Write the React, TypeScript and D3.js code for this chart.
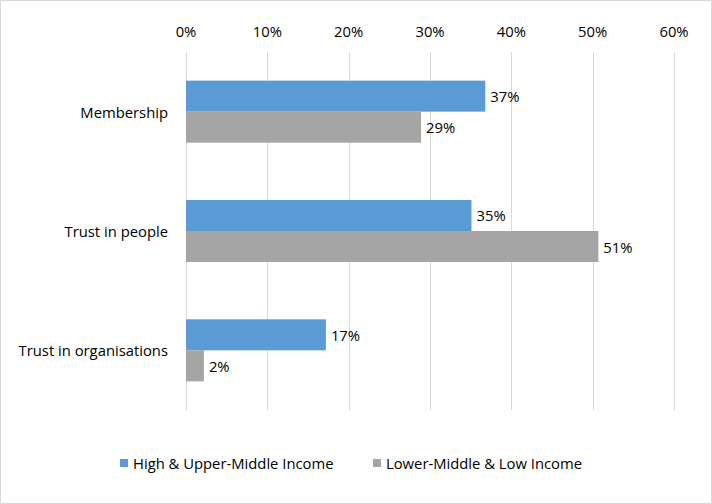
import React from "react";
import { scaleLinear, scaleBand, format } from "d3";

const categories = ["Membership", "Trust in people", "Trust in organisations"];
const seriesNames = ["High & Upper-Middle Income", "Lower-Middle & Low Income"];
const highUpper = [0.368, 0.351, 0.172];
const lowerLow = [0.289, 0.507, 0.022];
const xTicks = [0, 0.1, 0.2, 0.3, 0.4, 0.5, 0.6];

const colors = ["#5B9BD5", "#A5A5A5"];
const W = 712;
const H = 504;
const margin = { top: 52, right: 38, bottom: 94, left: 186 };
const font = "'Open Sans', 'Noto Sans', sans-serif";
const fs = 14.8;

export default function App() {
  const plotW = W - margin.left - margin.right;
  const plotH = H - margin.top - margin.bottom;
  const pct = format(".0%");

  // percentage axis runs along the top
  const x = scaleLinear().domain([0, 0.6]).range([0, plotW]);
  const y = scaleBand<string>()
    .domain(categories)
    .range([0, plotH])
    .paddingInner(0.48)
    .paddingOuter(0.24);
  const sub = scaleBand<number>().domain([0, 1]).range([0, y.bandwidth()]);

  const series = [highUpper, lowerLow];

  return (
    <svg
      width={W}
      height={H}
      style={{ position: "absolute", left: 0, top: 0, fontFamily: font }}
    >
      <rect x={0.5} y={0.5} width={W - 1} height={H - 1} fill="#fff" stroke="#D9D9D9" />
      <g transform={`translate(${margin.left},${margin.top})`}>
        {xTicks.map((t) => (
          <g key={t}>
            <line
              x1={Math.round(x(t)) + 0.5}
              x2={Math.round(x(t)) + 0.5}
              y1={0}
              y2={plotH}
              stroke="#D9D9D9"
            />
            <text x={x(t)} y={-21} textAnchor="middle" dominantBaseline="central" fontSize={fs} fill="#000">
              {pct(t)}
            </text>
          </g>
        ))}
        {categories.map((c, i) => (
          <g key={c} transform={`translate(0,${y(c)})`}>
            <text
              x={-18}
              y={y.bandwidth() / 2}
              textAnchor="end"
              dominantBaseline="central"
              fontSize={fs}
              fill="#000"
            >
              {c}
            </text>
            {series.map((s, k) => (
              <g key={k}>
                <rect x={0} y={sub(k)} width={x(s[i])} height={sub.bandwidth()} fill={colors[k]} />
                <text
                  x={x(s[i]) + 5}
                  y={(sub(k) ?? 0) + sub.bandwidth() / 2}
                  dominantBaseline="central"
                  fontSize={fs}
                  fill="#000"
                >
                  {pct(s[i])}
                </text>
              </g>
            ))}
          </g>
        ))}
      </g>
      <g transform="translate(120,463)">
        <rect x={0} y={-4} width={8} height={8} fill={colors[0]} />
        <text x={13} y={0} dominantBaseline="central" fontSize={fs} fill="#000">
          {seriesNames[0]}
        </text>
        <rect x={253} y={-4} width={8} height={8} fill={colors[1]} />
        <text x={266} y={0} dominantBaseline="central" fontSize={fs} fill="#000">
          {seriesNames[1]}
        </text>
      </g>
    </svg>
  );
}
